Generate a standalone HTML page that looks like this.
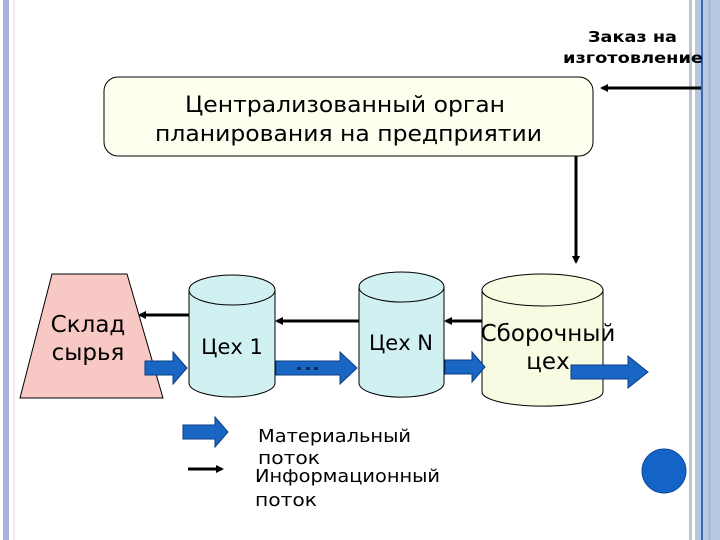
<!DOCTYPE html>
<html><head><meta charset="utf-8"><style>
html,body{margin:0;padding:0;background:#fff;width:720px;height:540px;overflow:hidden}
svg{display:block}
text{font-family:"DejaVu Sans","Liberation Sans",sans-serif;fill:#000}
</style></head><body>
<svg width="720" height="540" viewBox="0 0 720 540">
<defs>
<marker id="ah" markerWidth="8" markerHeight="8" refX="6" refY="4" orient="auto" markerUnits="userSpaceOnUse"><path d="M0,0 L8,4 L0,8 Z" fill="#000"/></marker>
</defs>
<rect x="3" y="0" width="6" height="540" fill="#a8b2dc"/>
<rect x="13" y="0" width="2" height="540" fill="#f4e8f8"/>
<rect x="689" y="0" width="3" height="540" fill="#c0c4cc"/>
<rect x="695" y="0" width="25" height="540" fill="#b8c8e2"/>
<rect x="701" y="0" width="2" height="540" fill="#3a6ab0"/>
<rect x="708" y="0" width="3" height="540" fill="#a8bcd8"/>

<text x="588" y="42" font-size="15" font-weight="bold" textLength="89" lengthAdjust="spacingAndGlyphs">Заказ на</text>
<text x="563" y="63" font-size="15" font-weight="bold" textLength="140" lengthAdjust="spacingAndGlyphs">изготовление</text>

<rect x="104" y="77" width="489" height="79" rx="14" fill="#fffff0" stroke="#000" stroke-width="1"/>
<text x="185" y="112" font-size="22" textLength="320" lengthAdjust="spacingAndGlyphs">Централизованный орган</text>
<text x="155" y="141" font-size="22" textLength="387" lengthAdjust="spacingAndGlyphs">планирования на предприятии</text>

<line x1="701" y1="88" x2="602" y2="88" stroke="#000" stroke-width="3" marker-end="url(#ah)"/>
<line x1="576" y1="156" x2="576" y2="262" stroke="#000" stroke-width="3" marker-end="url(#ah)"/>

<polygon points="52,274 127,274 163,398 20,398" fill="#f8c8c4" stroke="#000" stroke-width="1"/>
<text x="88" y="332" font-size="23" text-anchor="middle">Склад</text>
<text x="88" y="360" font-size="23" text-anchor="middle">сырья</text>

<path d="M189,290 L189,383 A43,14 0 0 0 275,383 L275,290" fill="#d0f0f2" stroke="#000"/>
<ellipse cx="232" cy="290" rx="43" ry="15" fill="#d0f0f2" stroke="#000"/>
<text x="232" y="354" font-size="21" text-anchor="middle">Цех 1</text>

<path d="M359,287 L359,383 A42,14 0 0 0 444,383 L444,287" fill="#d0f0f2" stroke="#000"/>
<ellipse cx="401.5" cy="287" rx="42.5" ry="15" fill="#d0f0f2" stroke="#000"/>
<text x="401" y="350" font-size="21" text-anchor="middle">Цех N</text>

<path d="M482,290 L482,392 A60,14 0 0 0 603,392 L603,290" fill="#f6fbe2" stroke="#000"/>
<ellipse cx="542.5" cy="290" rx="60.5" ry="16" fill="#f6fbe2" stroke="#000"/>
<text x="548" y="341" font-size="23" text-anchor="middle">Сборочный</text>
<text x="548" y="369" font-size="23" text-anchor="middle">цех</text>

<line x1="189" y1="315" x2="140" y2="315" stroke="#000" stroke-width="3" marker-end="url(#ah)"/>
<line x1="359" y1="321" x2="277" y2="321" stroke="#000" stroke-width="3" marker-end="url(#ah)"/>
<line x1="482" y1="321" x2="446" y2="321" stroke="#000" stroke-width="3" marker-end="url(#ah)"/>

<g fill="#1a66c4" stroke="#0a3c80" stroke-width="1">
<polygon points="145,361 173,361 173,352 187,368 173,384 173,375 145,375"/>
<polygon points="276,361 340,361 340,352 357,368 340,384 340,375 276,375"/>
<polygon points="445,360 472,360 472,352 485,367 472,382 472,374 445,374"/>
<polygon points="571,365 628,365 628,356 648,372 628,388 628,379 571,379"/>
<polygon points="183,425 215,425 215,417 228,432 215,447 215,439 183,439"/>
</g>
<g fill="#0a2a5a"><rect x="297" y="367" width="4" height="3"/><rect x="306" y="367" width="4" height="3"/><rect x="314" y="367" width="4" height="3"/></g>

<line x1="188" y1="469" x2="222" y2="469" stroke="#000" stroke-width="3" marker-end="url(#ah)"/>
<text x="258" y="442" font-size="18" textLength="153" lengthAdjust="spacingAndGlyphs">Материальный</text>
<text x="258" y="464" font-size="18" textLength="62" lengthAdjust="spacingAndGlyphs">поток</text>
<text x="255" y="482" font-size="18" textLength="185" lengthAdjust="spacingAndGlyphs">Информационный</text>
<text x="255" y="506" font-size="18" textLength="62" lengthAdjust="spacingAndGlyphs">поток</text>

<circle cx="664" cy="471" r="22" fill="#1464c8" stroke="#0a4a9a"/>
</svg>
</body></html>
